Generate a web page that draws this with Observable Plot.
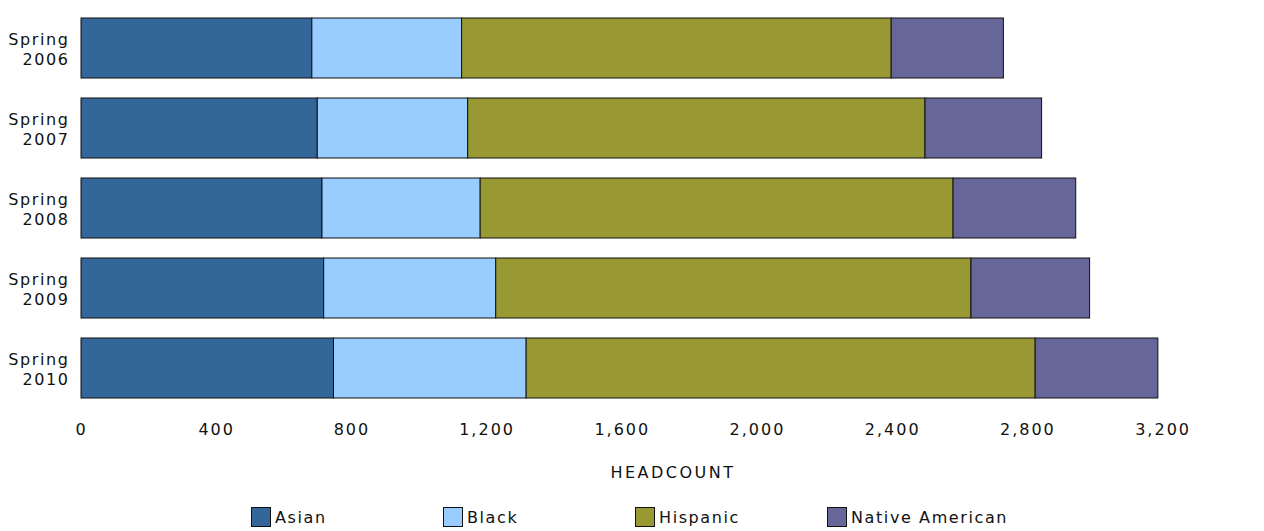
<!DOCTYPE html>
<html>
<head>
<meta charset="utf-8">
<script src="https://cdn.jsdelivr.net/npm/d3@7"></script>
<script src="https://cdn.jsdelivr.net/npm/@observablehq/plot@0.6"></script>
<style>
  html, body { margin: 0; padding: 0; background: #fff; }
  #wrap { position: relative; width: 1264px; height: 531px; font-family: "DejaVu Sans", sans-serif; color: #111; }
  #wrap svg text { letter-spacing: 1.6px; }
  #wrap svg g[aria-label="x-axis tick label"] text { letter-spacing: 2px; }
  #wrap svg g[aria-label="y-axis tick label"] text { letter-spacing: 1.6px; }
  #wrap svg g[aria-label="text"] text { letter-spacing: 2.5px; }
  .legend { position: absolute; top: 506px; left: 0; width: 1264px; height: 22px; }
  .item { position: absolute; top: 0; display: flex; align-items: center; font-size: 16px; letter-spacing: 1.6px; height: 22px; }
  .sw { width: 18px; height: 18px; border: 1.5px solid #111; margin-right: 4px; box-sizing: content-box; }
</style>
</head>
<body>
<div id="wrap"></div>
<script>
const terms = ["Spring\n2006", "Spring\n2007", "Spring\n2008", "Spring\n2009", "Spring\n2010"];
const series = ["Asian", "Black", "Hispanic", "Native American"];
const colors = ["#336699", "#99CCFF", "#999933", "#666699"];
const asian = [683, 699, 713, 718, 747];
const black = [443, 445, 468, 509, 570];
const hispanic = [1271, 1353, 1399, 1406, 1506];
const nativeAmerican = [332, 345, 363, 351, 363];
const xTicks = [0, 400, 800, 1200, 1600, 2000, 2400, 2800, 3200];
const xLabel = "HEADCOUNT";

const valuesBySeries = [asian, black, hispanic, nativeAmerican];
const rows = [];
series.forEach((s, si) => {
  terms.forEach((t, ti) => rows.push({term: t, race: s, value: valuesBySeries[si][ti]}));
});

const chart = Plot.plot({
  width: 1264,
  height: 495,
  marginTop: 8,
  marginLeft: 81,
  marginRight: 0,
  marginBottom: 87,
  style: {fontFamily: "DejaVu Sans, sans-serif", fontSize: "16px", color: "#111", background: "#fff"},
  x: {domain: [0, 3500]},
  y: {domain: terms, paddingInner: 0.25, paddingOuter: 0.125},
  color: {domain: series, range: colors},
  marks: [
    Plot.barX(rows, {y: "term", x: "value", fill: "race", stroke: "#111", strokeWidth: 1}),
    Plot.axisX({ticks: xTicks, tickFormat: d3.format(","), tickSize: 0, tickPadding: 15, line: true, label: null, stroke: "#222", strokeWidth: 1.3, fill: "#111"}),
    Plot.axisY({tickSize: 0, tickPadding: 12, line: true, label: null, lineHeight: 1.25, stroke: "#222", strokeWidth: 1.3, fill: "#111"}),
    Plot.text([xLabel], {frameAnchor: "bottom", dy: 64, lineAnchor: "middle", text: d => d, fontSize: 16, fill: "#111"})
  ]
});
const wrap = document.getElementById("wrap");
wrap.appendChild(chart);

const legend = document.createElement("div");
legend.className = "legend";
series.forEach((s, i) => {
  const it = document.createElement("div");
  it.className = "item";
  it.style.left = (251 + i * 192) + "px";
  const sw = document.createElement("div");
  sw.className = "sw";
  sw.style.background = colors[i];
  const lab = document.createElement("span");
  lab.textContent = s;
  it.appendChild(sw);
  it.appendChild(lab);
  legend.appendChild(it);
});
wrap.appendChild(legend);
</script>
</body>
</html>
